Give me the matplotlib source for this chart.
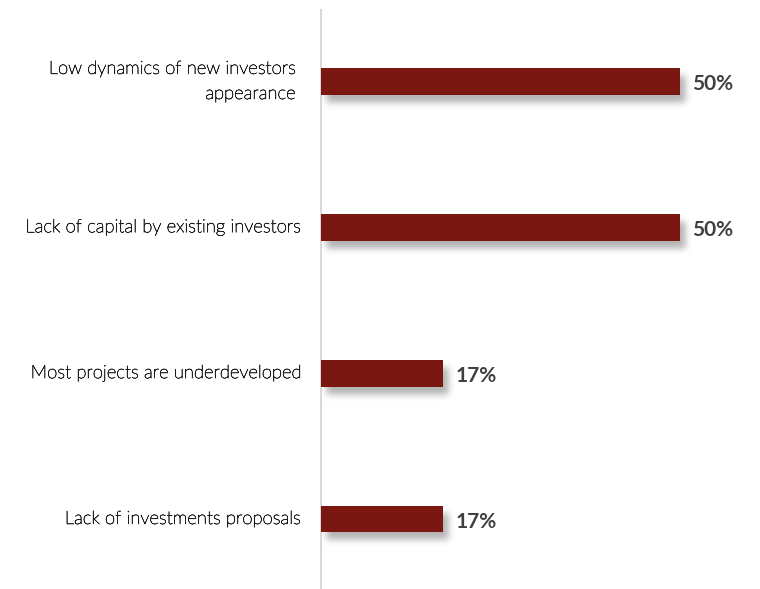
import matplotlib
matplotlib.use("Agg")
import numpy as np
import matplotlib.pyplot as plt
import matplotlib.patheffects as pe

categorias = [
    "Low dynamics of new investors \nappearance ",
    "Lack of capital by existing investors",
    "Most projects are underdeveloped",
    "Lack of investments proposals",
]
valores = [50, 50, 17, 17]

cor_barra = "#7b1711"


def filtro_sombra(im, dpi, pad=16, sigma=3.5, dx=5, dy=7):
    # desfoque gaussiano + deslocamento para baixo/direita
    a = np.pad(im, [(pad, pad), (pad, pad), (0, 0)], "constant")
    x = np.arange(-3 * sigma, 3 * sigma + 1)
    k = np.exp(-x ** 2 / (2 * sigma ** 2))
    k /= k.sum()
    a = np.apply_along_axis(lambda m: np.convolve(m, k, "same"), 0, a)
    a = np.apply_along_axis(lambda m: np.convolve(m, k, "same"), 1, a)
    a = np.roll(a, dx, axis=1)
    a = np.roll(a, dy, axis=0)
    return a, -pad, -pad


fig = plt.figure(figsize=(7.6, 5.89), dpi=100)
ax = fig.add_axes([321 / 760, 0, (760 - 321) / 760, 579 / 589])

pos = list(range(len(categorias)))
altura = 0.185

sombras = ax.barh(pos, valores, height=altura, color="#000000", alpha=0.3,
                  linewidth=0, zorder=1)
for s in sombras:
    s.set_agg_filter(filtro_sombra)
    s.set_rasterized(True)

ax.barh(pos, valores, height=altura, color=cor_barra, zorder=3)

for y, v in zip(pos, valores):
    ax.text(v + 1.7, y + 0.02, f"{v}%", va="center", ha="left", fontsize=15,
            fontweight="bold", color="#404040", family="Lato", zorder=4)

ax.set_xlim(0, 61.1)
ax.set_ylim(3.48, -0.49)
ax.set_yticks(pos)
ax.set_yticklabels(categorias, fontsize=13.3, family="Lato", fontweight="light",
                   color="#111111", ha="right", va="center", linespacing=1.7)
for rotulo in ax.get_yticklabels():
    rotulo.set_path_effects([pe.withStroke(linewidth=0.4, foreground="#222222")])
ax.tick_params(axis="y", length=0, pad=14)
ax.set_xticks([])
for lado in ["top", "right", "bottom"]:
    ax.spines[lado].set_visible(False)
ax.spines["left"].set_color("#d9d9d9")
ax.spines["left"].set_linewidth(1.5)

fig.savefig("out.png", dpi=100)
